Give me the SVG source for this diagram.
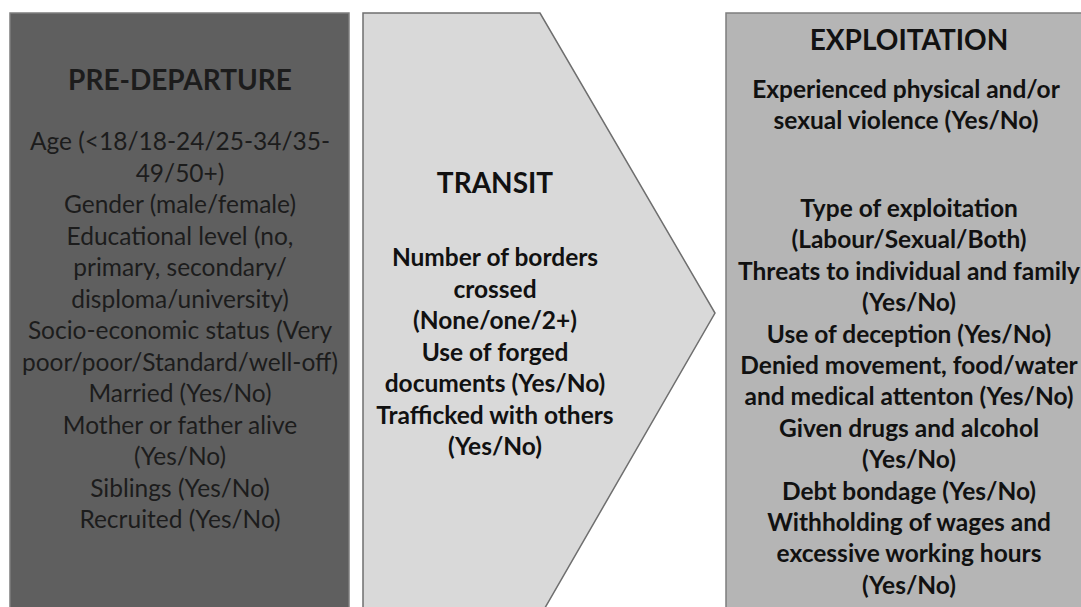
<svg xmlns="http://www.w3.org/2000/svg" width="1081" height="607" viewBox="0 0 1081 607">
<style>
text{font-family:Lato,"Open Sans","Liberation Sans",sans-serif;text-anchor:middle}
.h{font-size:28px;font-weight:700}
.b{font-size:24.5px}
.bb{font-size:24.5px;font-weight:700}
.dk{fill:#1c1c1c}
.bk{fill:#111111}
</style>
<rect x="0" y="0" width="1081" height="607" fill="#ffffff"/>
<g id="pre-departure">
<rect x="10" y="13" width="339" height="600" fill="#5f5f5f" stroke="#7d7d7d" stroke-width="1.5"/>
<text class="h dk" x="180" y="90">PRE-DEPARTURE</text>
<text class="b dk" x="180" y="150">Age (&lt;18/18-24/25-34/35-</text>
<text class="b dk" x="180" y="181.5">49/50+)</text>
<text class="b dk" x="180" y="213">Gender (male/female)</text>
<text class="b dk" x="180" y="244.5">Educational level (no,</text>
<text class="b dk" x="180" y="276">primary, secondary/</text>
<text class="b dk" x="180" y="307.5">disploma/university)</text>
<text class="b dk" x="180" y="339">Socio-economic status (Very</text>
<text class="b dk" x="180" y="370.5">poor/poor/Standard/well-off)</text>
<text class="b dk" x="180" y="402">Married (Yes/No)</text>
<text class="b dk" x="180" y="433.5">Mother or father alive</text>
<text class="b dk" x="180" y="465">(Yes/No)</text>
<text class="b dk" x="180" y="496.5">Siblings (Yes/No)</text>
<text class="b dk" x="180" y="528">Recruited (Yes/No)</text>
</g>
<g id="transit">
<polygon points="363,13 540,13 715,313 542,613 363,613" fill="#d9d9d9" stroke="#6f6f6f" stroke-width="1.5"/>
<text class="h bk" x="495" y="193">TRANSIT</text>
<text class="bb bk" x="495" y="266">Number of borders</text>
<text class="bb bk" x="495" y="297.5">crossed</text>
<text class="bb bk" x="495" y="329">(None/one/2+)</text>
<text class="bb bk" x="495" y="360.5">Use of forged</text>
<text class="bb bk" x="495" y="392">documents (Yes/No)</text>
<text class="bb bk" x="495" y="423.5">Trafficked with others</text>
<text class="bb bk" x="495" y="455">(Yes/No)</text>
</g>
<g id="exploitation">
<rect x="726" y="13" width="370" height="600" fill="#b5b5b5" stroke="#7d7d7d" stroke-width="1.5"/>
<text class="h bk" x="909" y="50">EXPLOITATION</text>
<text class="bb bk" x="906" y="98">Experienced physical and/or</text>
<text class="bb bk" x="906" y="129">sexual violence (Yes/No)</text>
<text class="bb bk" x="909" y="217">Type of exploitation</text>
<text class="bb bk" x="909" y="248.4">(Labour/Sexual/Both)</text>
<text class="bb bk" x="909" y="279.8">Threats to individual and family</text>
<text class="bb bk" x="909" y="311.2">(Yes/No)</text>
<text class="bb bk" x="909" y="342.6">Use of deception (Yes/No)</text>
<text class="bb bk" x="909" y="374">Denied movement, food/water</text>
<text class="bb bk" x="909" y="405.4">and medical attenton (Yes/No)</text>
<text class="bb bk" x="909" y="436.8">Given drugs and alcohol</text>
<text class="bb bk" x="909" y="468.2">(Yes/No)</text>
<text class="bb bk" x="909" y="499.6">Debt bondage (Yes/No)</text>
<text class="bb bk" x="909" y="531">Withholding of wages and</text>
<text class="bb bk" x="909" y="562.4">excessive working hours</text>
<text class="bb bk" x="909" y="593.8">(Yes/No)</text>
</g>
<g id="connectors"></g>
</svg>
